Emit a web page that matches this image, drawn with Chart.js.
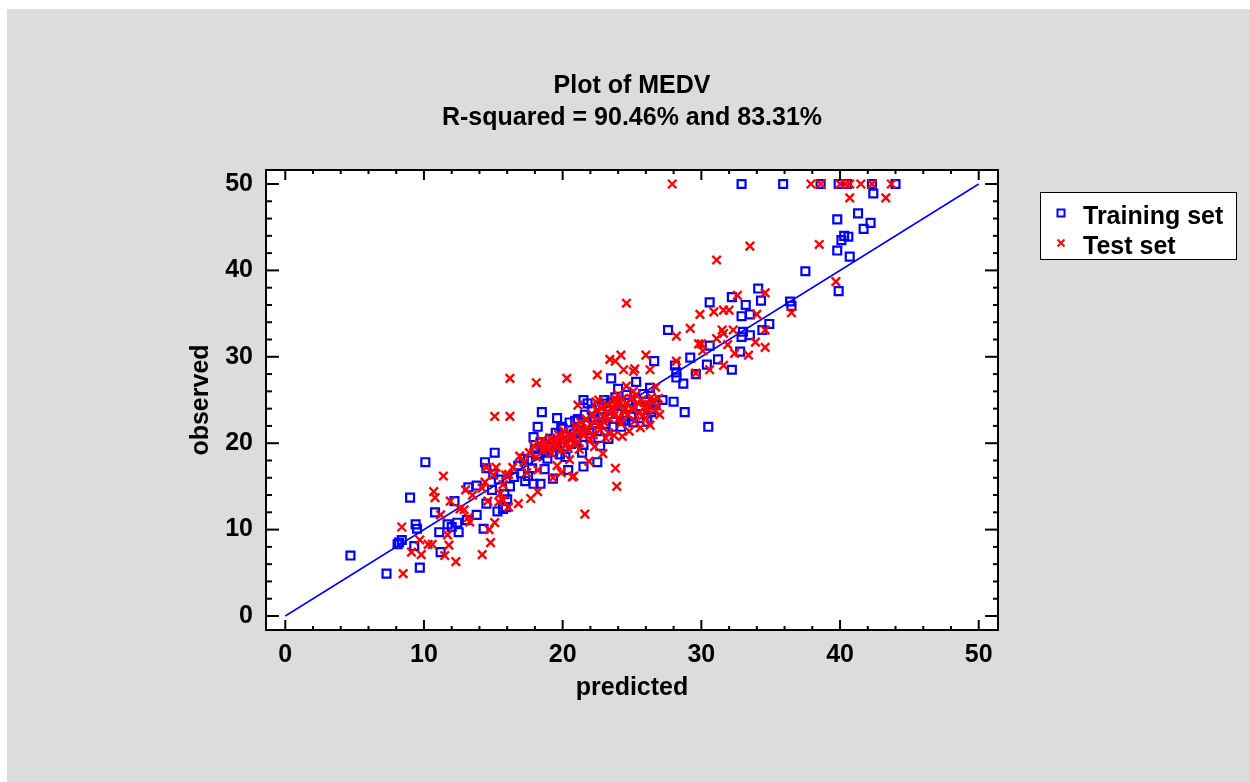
<!DOCTYPE html>
<html>
<head>
<meta charset="utf-8">
<script src="https://cdn.jsdelivr.net/npm/chart.js@4.4.1/dist/chart.umd.min.js"></script>
<style>
    html, body { margin: 0; padding: 0; background: #ffffff; }
    #panel { position: absolute; left: 7px; top: 9px; width: 1243px; height: 773px; background: #dcdcdc; }
    canvas { display: block; }
</style>
</head>
<body>
<div id="panel"><canvas id="chart" width="1243" height="773"></canvas></div>
<script>
"use strict";

const titleLines = ["Plot of MEDV", "R-squared = 90.46% and 83.31%"];
const xTitle = "predicted";
const yTitle = "observed";
const seriesNames = ["Training set", "Test set"];

const xTicks = [0, 10, 20, 30, 40, 50];
const yTicks = [0, 10, 20, 30, 40, 50];
const minorStep = 2;

// fitted line observed = predicted
const lineX = [0, 50];
const lineY = [0, 50];

// [predicted, observed]
const trainingPairs = [
    [10.1, 17.8], [15.1, 18.9], [14.4, 17.8], [14.5, 17.1], [15.0, 16.4], [9.0, 13.7],
    [13.2, 14.9], [13.8, 15.1], [12.2, 13.3], [10.8, 12.0], [14.5, 13.0], [15.3, 12.1],
    [15.7, 12.4], [13.8, 11.7], [13.1, 11.1], [9.4, 10.6], [9.5, 10.1], [11.7, 10.6],
    [12.0, 10.3], [12.4, 10.8], [11.1, 9.7], [12.5, 9.7], [14.3, 10.1], [8.4, 8.8],
    [8.1, 8.3], [8.2, 8.5], [9.3, 8.1], [11.2, 7.4], [4.7, 7.0], [9.7, 5.6],
    [7.3, 4.9], [15.9, 12.6],
    [23.5, 27.5], [24.0, 26.3], [21.5, 25.0], [21.8, 24.6], [18.5, 23.6], [19.6, 22.9],
    [18.2, 21.9], [17.9, 20.7], [17.2, 18.2], [20.4, 16.9], [21.5, 17.3], [22.5, 17.8],
    [23.3, 20.5], [19.3, 15.9], [18.4, 15.3], [24.2, 21.9],
    [27.6, 33.1], [26.6, 29.5], [28.1, 29.0], [28.2, 28.2], [28.2, 27.6], [25.3, 27.1],
    [26.3, 26.4], [27.2, 25.0], [28.0, 24.8], [28.8, 23.6], [30.5, 21.9], [26.4, 23.6],
    [25.5, 22.9],
    [32.9, 50], [35.9, 50], [38.6, 50], [39.9, 50], [40.5, 50], [42.3, 50], [44.0, 50],
    [42.4, 48.9], [41.3, 46.6], [39.8, 45.9], [42.2, 45.5], [41.7, 44.8], [40.3, 44.0],
    [40.6, 43.9], [40.1, 43.5], [39.8, 42.3], [40.7, 41.6], [37.5, 39.9], [39.9, 37.6],
    [34.1, 37.9], [34.3, 36.5], [32.2, 36.9], [30.6, 36.3], [33.2, 36.0], [36.4, 36.4],
    [36.5, 35.9], [32.9, 34.7], [33.5, 34.9], [34.9, 33.8], [34.4, 33.1], [33.0, 32.9],
    [32.9, 32.3], [33.5, 32.5], [30.6, 31.3], [29.2, 29.9], [31.2, 29.7], [32.8, 30.6],
    [30.4, 29.1], [32.2, 28.5], [29.6, 28.0], [28.7, 26.9],
    [16.2, 15.0], [16.5, 16.1], [16.8, 17.4], [17.0, 16.5], [17.3, 15.6], [17.5, 18.0],
    [17.8, 17.1], [18.0, 19.3], [18.2, 18.6], [18.4, 20.1], [18.6, 19.4], [18.9, 18.2],
    [19.1, 20.5], [19.3, 19.0], [19.5, 21.2], [19.6, 20.0], [19.8, 18.7], [20.0, 21.7],
    [20.1, 19.6], [20.3, 20.8], [20.5, 22.4], [20.6, 19.9], [20.8, 21.1], [21.0, 20.3],
    [21.1, 22.8], [21.3, 21.5], [21.5, 19.8], [21.6, 23.3], [21.8, 22.1], [22.0, 20.6],
    [22.1, 23.9], [22.3, 22.7], [22.5, 21.4], [22.6, 24.4], [22.8, 23.0], [23.0, 25.0],
    [23.1, 22.2], [23.3, 23.8], [23.5, 24.7], [23.6, 21.9], [23.8, 25.3], [24.0, 23.4],
    [24.2, 24.9], [24.4, 22.6], [24.6, 25.6], [24.8, 24.0], [25.0, 23.1], [25.3, 25.0],
    [25.6, 24.3], [26.0, 24.8], [26.3, 23.9], [17.9, 15.3], [18.7, 17.0], [20.2, 18.4],
    [21.4, 18.9], [22.7, 19.7], [15.8, 14.1], [16.0, 13.5], [14.9, 14.6], [15.4, 15.8],
    [24.5, 23.1], [25.8, 25.7], [26.7, 24.4], [22.9, 24.6], [20.9, 22.6], [19.9, 21.9],
    [18.8, 18.9], [17.5, 16.2], [25.1, 22.4], [26.1, 22.5]
];

const testPairs = [
    [11.4, 16.2], [10.7, 14.4], [10.8, 13.7], [11.9, 13.3], [13.0, 14.6], [14.4, 15.5],
    [14.5, 17.2], [15.2, 17.2], [15.9, 16.3], [11.2, 11.7], [12.9, 12.3], [13.3, 10.9],
    [8.4, 10.3], [9.7, 8.8], [10.3, 8.3], [10.6, 8.3], [11.7, 9.4], [11.8, 8.2],
    [9.1, 7.4], [9.8, 7.1], [11.5, 7.0], [12.3, 6.3], [8.5, 4.9], [14.2, 7.1],
    [14.8, 8.5], [14.7, 10.0], [15.1, 10.8], [13.2, 11.4], [15.4, 13.2], [15.7, 13.4],
    [12.6, 12.4],
    [16.2, 27.5], [18.1, 27.0], [20.3, 27.5], [22.5, 27.9], [15.1, 23.1], [16.2, 23.1],
    [23.9, 15.0], [21.6, 11.8], [20.7, 16.1], [19.3, 16.0], [17.7, 13.6], [18.2, 14.4],
    [16.8, 13.0], [16.1, 12.6],
    [24.6, 36.2], [28.2, 32.4], [28.2, 29.5], [26.0, 30.2], [23.4, 29.7], [24.2, 30.2],
    [23.8, 29.5], [24.4, 28.5], [25.1, 28.3], [25.2, 28.6], [26.3, 28.5], [24.6, 26.6],
    [25.1, 26.0], [26.7, 26.5], [27.0, 23.3], [26.3, 22.1], [24.3, 20.8], [23.8, 17.1],
    [27.9, 50], [37.9, 50], [38.6, 50], [40.0, 50], [40.4, 50], [40.7, 50], [41.5, 50],
    [42.3, 50], [43.7, 50], [40.7, 48.4], [43.3, 48.4], [38.5, 43.0], [33.5, 42.8],
    [31.1, 41.2], [39.7, 38.7], [32.6, 37.1], [34.6, 37.4], [29.9, 34.9], [30.9, 35.2],
    [31.6, 35.4], [32.0, 35.4], [34.0, 34.9], [36.5, 35.1], [29.2, 33.3], [31.5, 33.1],
    [32.3, 33.1], [34.6, 33.1], [31.1, 32.1], [31.6, 32.7], [29.8, 31.5], [30.0, 31.5],
    [31.9, 31.4], [33.9, 31.7], [34.6, 31.1], [30.1, 30.7], [32.4, 30.4], [33.4, 30.2],
    [31.6, 29.0], [30.6, 28.5], [29.6, 28.1],
    [17.2, 17.8], [17.6, 18.9], [17.9, 19.7], [18.1, 18.4], [18.3, 19.9], [18.5, 20.3],
    [18.6, 19.1], [18.8, 20.0], [19.0, 19.5], [19.1, 20.6], [19.2, 18.8], [19.4, 20.2],
    [19.5, 19.7], [19.7, 21.0], [19.8, 20.4], [19.9, 19.2], [20.0, 20.1], [20.1, 21.4],
    [20.3, 20.0], [20.4, 19.4], [20.6, 21.0], [20.7, 20.5], [20.9, 22.0], [21.0, 21.3],
    [21.1, 20.2], [21.3, 22.4], [21.4, 21.7], [21.5, 20.9], [21.7, 22.8], [21.8, 21.5],
    [22.0, 22.2], [22.1, 23.4], [22.2, 21.0], [22.4, 22.6], [22.5, 23.8], [22.6, 22.0],
    [22.8, 24.0], [22.9, 23.1], [23.0, 22.4], [23.2, 24.5], [23.3, 23.6], [23.4, 22.8],
    [23.6, 24.2], [23.7, 23.2], [23.9, 25.0], [24.0, 24.3], [24.1, 22.9], [24.3, 25.1],
    [24.4, 23.7], [24.6, 24.6], [24.7, 23.3], [24.9, 25.2], [25.0, 24.1], [25.2, 22.6],
    [25.4, 24.7], [25.5, 23.5], [25.7, 25.0], [25.9, 24.2], [26.0, 22.9], [26.2, 24.5],
    [26.4, 25.3], [26.6, 23.8], [21.2, 19.3], [20.5, 18.1], [19.6, 17.4], [22.3, 19.6],
    [23.1, 20.6], [16.4, 17.2], [16.9, 18.5], [17.4, 16.6], [18.2, 16.9], [15.7, 15.2],
    [16.1, 16.4], [15.0, 16.3], [15.5, 14.2], [14.2, 14.8], [14.6, 13.3], [13.5, 14.0],
    [24.8, 21.4], [25.6, 21.8], [23.7, 20.9], [22.9, 18.8], [21.9, 17.9], [20.8, 16.2],
    [19.9, 16.6], [21.1, 24.4], [22.6, 25.0], [23.7, 25.0],
    [22.4, 24.8], [23.5, 23.9], [24.2, 22.3], [24.5, 24.0], [25.1, 23.9], [25.8, 23.2],
    [26.1, 24.0], [26.5, 24.9], [26.8, 24.3], [22.7, 21.5], [23.3, 21.2], [21.6, 21.1],
    [20.2, 20.7], [19.3, 19.9], [18.7, 19.5], [25.3, 25.6], [24.0, 25.6], [26.9, 25.2],
    [20.9, 19.8], [22.0, 20.4]
];

const blue = "#0000ff";
const red = "#ff0000";
const fontFamily = "'Liberation Sans', Arial, Helvetica, sans-serif";
const boldFont = { family: fontFamily, size: 25, weight: "bold", lineHeight: 1.2 };

function toPoints(pairs) {
    return pairs.map(([x, y]) => ({ x, y }));
}

function drawTickSet(ctx, scale, values, from, dir, length, vertical) {
    for (const v of values) {
        const p = scale.getPixelForValue(v);
        ctx.beginPath();
        if (vertical) {
            ctx.moveTo(from, p);
            ctx.lineTo(from + dir * length, p);
        } else {
            ctx.moveTo(p, from);
            ctx.lineTo(p, from + dir * length);
        }
        ctx.stroke();
    }
}

function minorValues(majors) {
    const out = [];
    for (let i = 0; i < majors.length - 1; i++) {
        for (let v = majors[i] + minorStep; v < majors[i + 1]; v += minorStep) {
            out.push(v);
        }
    }
    return out;
}

const framePlugin = {
    id: "statFrame",
    beforeDatasetsDraw(chart) {
        const { ctx, chartArea: a } = chart;
        ctx.save();
        ctx.fillStyle = "#ffffff";
        ctx.fillRect(a.left, a.top, a.right - a.left, a.bottom - a.top);
        ctx.restore();
    },
    afterDraw(chart) {
        const { ctx, chartArea: a } = chart;
        const xs = chart.scales.x;
        const ys = chart.scales.y;

        ctx.save();
        ctx.strokeStyle = "#000000";
        ctx.lineWidth = 2;
        ctx.strokeRect(a.left, a.top, a.right - a.left, a.bottom - a.top);

        const xMinor = minorValues(xTicks);
        const yMinor = minorValues(yTicks);
        drawTickSet(ctx, xs, xTicks, a.bottom, -1, 10, false);
        drawTickSet(ctx, xs, xMinor, a.bottom, -1, 4, false);
        drawTickSet(ctx, xs, xTicks, a.top, 1, 10, false);
        drawTickSet(ctx, xs, xMinor, a.top, 1, 4, false);
        drawTickSet(ctx, ys, yTicks, a.left, 1, 13, true);
        drawTickSet(ctx, ys, yMinor, a.left, 1, 6, true);
        drawTickSet(ctx, ys, yTicks, a.right, -1, 13, true);
        drawTickSet(ctx, ys, yMinor, a.right, -1, 5, true);

        // chart title, centred on the plot area
        ctx.fillStyle = "#000000";
        ctx.font = "bold 25px " + fontFamily;
        ctx.textAlign = "center";
        ctx.textBaseline = "middle";
        const cx = (a.left + a.right) / 2;
        ctx.fillText(titleLines[0], cx, 77);
        ctx.fillText(titleLines[1], cx, 109);

        // legend box
        const lx = 1033;
        const ly = 183;
        ctx.fillStyle = "#ffffff";
        ctx.fillRect(lx, ly, 196, 67);
        ctx.lineWidth = 1;
        ctx.strokeStyle = "#000000";
        ctx.strokeRect(lx + 0.5, ly + 0.5, 196, 67);

        ctx.lineWidth = 2;
        ctx.strokeStyle = blue;
        ctx.strokeRect(lx + 17.5, ly + 17.5, 7, 7);
        ctx.strokeStyle = red;
        ctx.beginPath();
        ctx.moveTo(lx + 17.5, ly + 47.5);
        ctx.lineTo(lx + 24.5, ly + 54.5);
        ctx.moveTo(lx + 24.5, ly + 47.5);
        ctx.lineTo(lx + 17.5, ly + 54.5);
        ctx.stroke();

        ctx.fillStyle = "#000000";
        ctx.textAlign = "left";
        ctx.fillText(seriesNames[0], lx + 43, ly + 25);
        ctx.fillText(seriesNames[1], lx + 43, ly + 55);
        ctx.restore();
    }
};

new Chart(document.getElementById("chart"), {
    type: "scatter",
    data: {
        datasets: [
            {
                label: seriesNames[1],
                data: toPoints(testPairs),
                pointStyle: "crossRot",
                pointRadius: 6,
                borderColor: red,
                backgroundColor: red,
                pointBorderWidth: 2.4
            },
            {
                label: seriesNames[0],
                data: toPoints(trainingPairs),
                pointStyle: "rect",
                pointRadius: 5.6,
                borderColor: blue,
                backgroundColor: "rgba(0,0,0,0)",
                pointBorderWidth: 2.2
            },
            {
                type: "line",
                label: "fit",
                data: lineX.map((x, i) => ({ x, y: lineY[i] })),
                borderColor: blue,
                borderWidth: 1.5,
                pointRadius: 0,
                showLine: true,
                fill: false
            }
        ]
    },
    options: {
        responsive: false,
        animation: false,
        events: [],
        layout: { padding: { top: 161, left: 179, right: 252, bottom: 79 } },
        plugins: {
            legend: { display: false },
            title: { display: false },
            tooltip: { enabled: false }
        },
        scales: {
            x: {
                type: "linear",
                min: -1.39,
                max: 51.39,
                afterBuildTicks: (s) => { s.ticks = xTicks.map((v) => ({ value: v })); },
                afterFit: (s) => { s.height = 73; },
                grid: { display: false, drawTicks: false },
                border: { display: false },
                ticks: { color: "#000000", padding: 10, font: boldFont, maxRotation: 0, autoSkip: false },
                title: { display: true, text: xTitle, color: "#000000", font: boldFont, padding: { top: 0, bottom: 0 } }
            },
            y: {
                type: "linear",
                min: -1.62,
                max: 51.62,
                afterBuildTicks: (s) => { s.ticks = yTicks.map((v) => ({ value: v })); },
                afterFit: (s) => { s.width = 80; },
                grid: { display: false, drawTicks: false },
                border: { display: false },
                ticks: { color: "#000000", padding: 13, font: boldFont, autoSkip: false },
                title: { display: true, text: yTitle, color: "#000000", font: boldFont, padding: { top: 0, bottom: 0 } }
            }
        }
    },
    plugins: [framePlugin]
});
</script>
</body>
</html>
